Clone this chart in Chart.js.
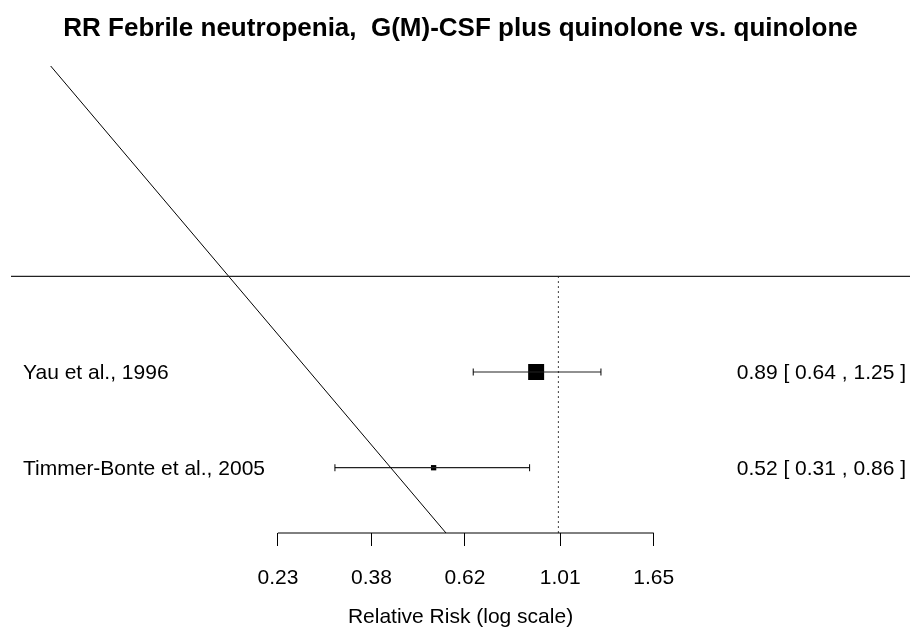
<!DOCTYPE html>
<html>
<head>
<meta charset="utf-8">
<script src="https://cdn.jsdelivr.net/npm/chart.js@4.4.1/dist/chart.umd.min.js"></script>
<style>
  html, body { margin: 0; padding: 0; background: #fff; overflow: hidden; }
  #wrap { width: 910px; height: 628px; }
</style>
</head>
<body>
<div id="wrap"><canvas id="forest"></canvas></div>
<script>
// study rows (top to bottom)
const STUDIES  = ['Yau et al., 1996', 'Timmer-Bonte et al., 2005'];
const ROWS     = [2, 1];
const RR       = [0.89, 0.52];
const CI_LOW   = [0.64, 0.31];
const CI_HIGH  = [1.25, 0.86];

// x axis works in log(RR)
const TICK_LABELS = ['0.23', '0.38', '0.62', '1.01', '1.65'];
const TICK_LOG    = [-1.47, -0.98, -0.49, 0.01, 0.50];
const X_RANGE     = [-2.869, 1.843];
const Y_RANGE     = [0.318, 5.197];
const SEP_ROW     = 3;
const REF_RR      = 1;

// stray diagonal line in the original plot (log RR, row)
const DIAG_LOG = [-2.661, -0.589];
const DIAG_ROW = [5.197, 0.318];

const FONT = "'Liberation Sans', Arial, Helvetica, sans-serif";
Chart.defaults.font.family = FONT;
Chart.defaults.color = '#000';

const lineSet = (data, extra = {}) => ({
    data,
    showLine: true,
    borderColor: '#000',
    borderWidth: 1,
    pointRadius: 0,
    ...extra,
});

const ciSets = ROWS.map((row, i) => lineSet(
    [{ x: Math.log(CI_LOW[i]), y: row }, { x: Math.log(CI_HIGH[i]), y: row }],
    { borderColor: '#222', borderWidth: 1.2, pointStyle: 'line', pointRotation: 90, pointRadius: 3.5, pointBorderColor: '#000', pointBorderWidth: 1 }
));

const rowText = {
    id: 'rowText',
    afterDatasetsDraw(chart) {
        const { ctx, chartArea, scales: { y } } = chart;
        ctx.save();
        ctx.font = `21px ${FONT}`;
        ctx.fillStyle = '#000';
        ctx.textBaseline = 'middle';
        ROWS.forEach((row, i) => {
            const py = y.getPixelForValue(row) + 1;
            ctx.textAlign = 'left';
            ctx.fillText(STUDIES[i], chartArea.left + 12, py);
            ctx.textAlign = 'right';
            const txt = `${RR[i].toFixed(2)} [ ${CI_LOW[i].toFixed(2)} , ${CI_HIGH[i].toFixed(2)} ]`;
            ctx.fillText(txt, chartArea.right - 4, py);
        });
        ctx.restore();
    },
};

new Chart(document.getElementById('forest'), {
    type: 'scatter',
    data: {
        datasets: [
            lineSet([{ x: X_RANGE[0], y: SEP_ROW }, { x: X_RANGE[1], y: SEP_ROW }], { borderColor: '#222', borderWidth: 1.3 }),
            lineSet([{ x: Math.log(REF_RR), y: SEP_ROW }, { x: Math.log(REF_RR), y: Y_RANGE[0] }], { borderDash: [1.5, 3.5] }),
            lineSet(DIAG_LOG.map((x, i) => ({ x, y: DIAG_ROW[i] }))),
            ...ciSets,
            {
                data: ROWS.map((row, i) => ({ x: Math.log(RR[i]), y: row })),
                pointStyle: 'rect',
                pointRadius: [11.3, 3.75],
                backgroundColor: '#000',
                borderColor: '#000',
                borderWidth: 0,
            },
            lineSet([{ x: TICK_LOG[0], y: Y_RANGE[0] }, { x: TICK_LOG[TICK_LOG.length - 1], y: Y_RANGE[0] }], { clip: 4 }),
        ],
    },
    options: {
        responsive: true,
        maintainAspectRatio: false,
        animation: false,
        events: [],
        layout: { autoPadding: false, padding: { left: 11, right: 0, top: 0, bottom: 0 } },
        plugins: {
            legend: { display: false },
            tooltip: { enabled: false },
            title: {
                display: true,
                text: 'RR Febrile neutropenia,  G(M)-CSF plus quinolone vs. quinolone',
                color: '#000',
                font: { size: 26, weight: 'bold' },
                padding: { top: 13, bottom: 21.8 },
            },
        },
        scales: {
            x: {
                type: 'linear',
                min: X_RANGE[0],
                max: X_RANGE[1],
                afterBuildTicks: s => { s.ticks = TICK_LOG.map(v => ({ value: v })); },
                afterFit: s => { s.height = 95; s.paddingLeft = 0; s.paddingRight = 0; },
                ticks: {
                    autoSkip: false,
                    maxRotation: 0,
                    padding: 20,
                    font: { size: 21 },
                    color: '#000',
                    callback: (v, i) => TICK_LABELS[i],
                },
                grid: { drawOnChartArea: false, drawTicks: true, tickLength: 13, color: '#000', lineWidth: 1 },
                border: { display: false },
                title: {
                    display: true,
                    text: 'Relative Risk (log scale)',
                    color: '#000',
                    font: { size: 21 },
                    padding: { top: 0, bottom: -2 },
                },
            },
            y: { display: false, min: Y_RANGE[0], max: Y_RANGE[1] },
        },
    },
    plugins: [rowText],
});
</script>
</body>
</html>
